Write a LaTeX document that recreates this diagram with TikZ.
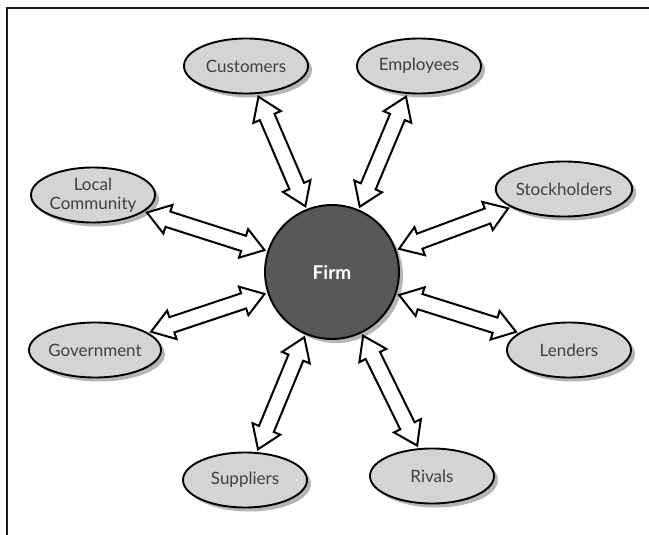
\documentclass[tikz,border=0pt]{standalone}
\usepackage{fontspec}
\setmainfont{Lato}
\usetikzlibrary{shapes.geometric,shadows,calc}

\definecolor{partyfill}{HTML}{D3D4D6}
\definecolor{firmfill}{HTML}{56585A}
\definecolor{shadowgray}{HTML}{B4B5B8}

% hollow two-headed arrow between two named nodes
\newcommand{\linkarrow}[2]{%
  \pgfmathanglebetweenpoints{\pgfpointanchor{#1}{center}}{\pgfpointanchor{#2}{center}}%
  \pgfmathtruncatemacro{\angout}{\pgfmathresult}%
  \pgfmathtruncatemacro{\angin}{\angout+180}%
  \coordinate (s) at ($(#1.\angout)!3pt!(#2.\angin)$);
  \coordinate (e) at ($(#2.\angin)!3pt!(#1.\angout)$);
  \draw[link] (s) -- ($(s)!22pt!(e)!15pt!90:(e)$) -- ($(s)!22pt!(e)!8pt!90:(e)$)
    -- ($(e)!22pt!(s)!8pt!-90:(s)$) -- ($(e)!22pt!(s)!15pt!-90:(s)$) -- (e)
    -- ($(e)!22pt!(s)!15pt!90:(s)$) -- ($(e)!22pt!(s)!8pt!90:(s)$)
    -- ($(s)!22pt!(e)!8pt!-90:(e)$) -- ($(s)!22pt!(e)!15pt!-90:(e)$) -- cycle;
}

\begin{document}
\begin{tikzpicture}[
    x=1pt, y=-1pt,
    party/.style={ellipse, draw, line width=1.9pt, fill=partyfill,
      minimum width=124pt, minimum height=55pt, inner sep=0pt, align=center,
      font=\fontsize{17}{19}\selectfont, text=black!75},
    firm/.style={circle, draw, line width=1.9pt, fill=firmfill,
      minimum size=134pt, inner sep=0pt, text=white,
      font=\fontsize{19}{21}\selectfont\bfseries},
    shade/.style={drop shadow={shadow xshift=4pt, shadow yshift=-4pt,
      fill=shadowgray, opacity=1}},
    link/.style={draw, line width=2pt, fill=white, line join=miter}
]
\useasboundingbox (0,0) rectangle (649,535);

% Frame
\draw[line width=2.5pt, black!90] (7,535) -- (7,8) -- (649,8);

% Centre node
\node[firm, shade] (firm) at (332,272) {Firm};

% Stakeholders round the firm
\node[party, shade] (customers) at (246,66) {Customers};
\node[party, shade] (employees) at (419,66) {Employees};
\node[party, shade] (community) at (93,195) {Local\\Community};
\node[party, shade] (stockholders) at (564,189) {Stockholders};
\node[party, shade] (government) at (95,350) {Government};
\node[party, shade] (lenders) at (569,350) {Lenders};
\node[party, shade] (suppliers) at (245,480) {Suppliers};
\node[party, shade] (rivals) at (432,476) {Rivals};

% Two-way links
\linkarrow{firm}{customers}
\linkarrow{firm}{employees}
\linkarrow{firm}{community}
\linkarrow{firm}{stockholders}
\linkarrow{firm}{government}
\linkarrow{firm}{lenders}
\linkarrow{firm}{suppliers}
\linkarrow{firm}{rivals}

\end{tikzpicture}
\end{document}
